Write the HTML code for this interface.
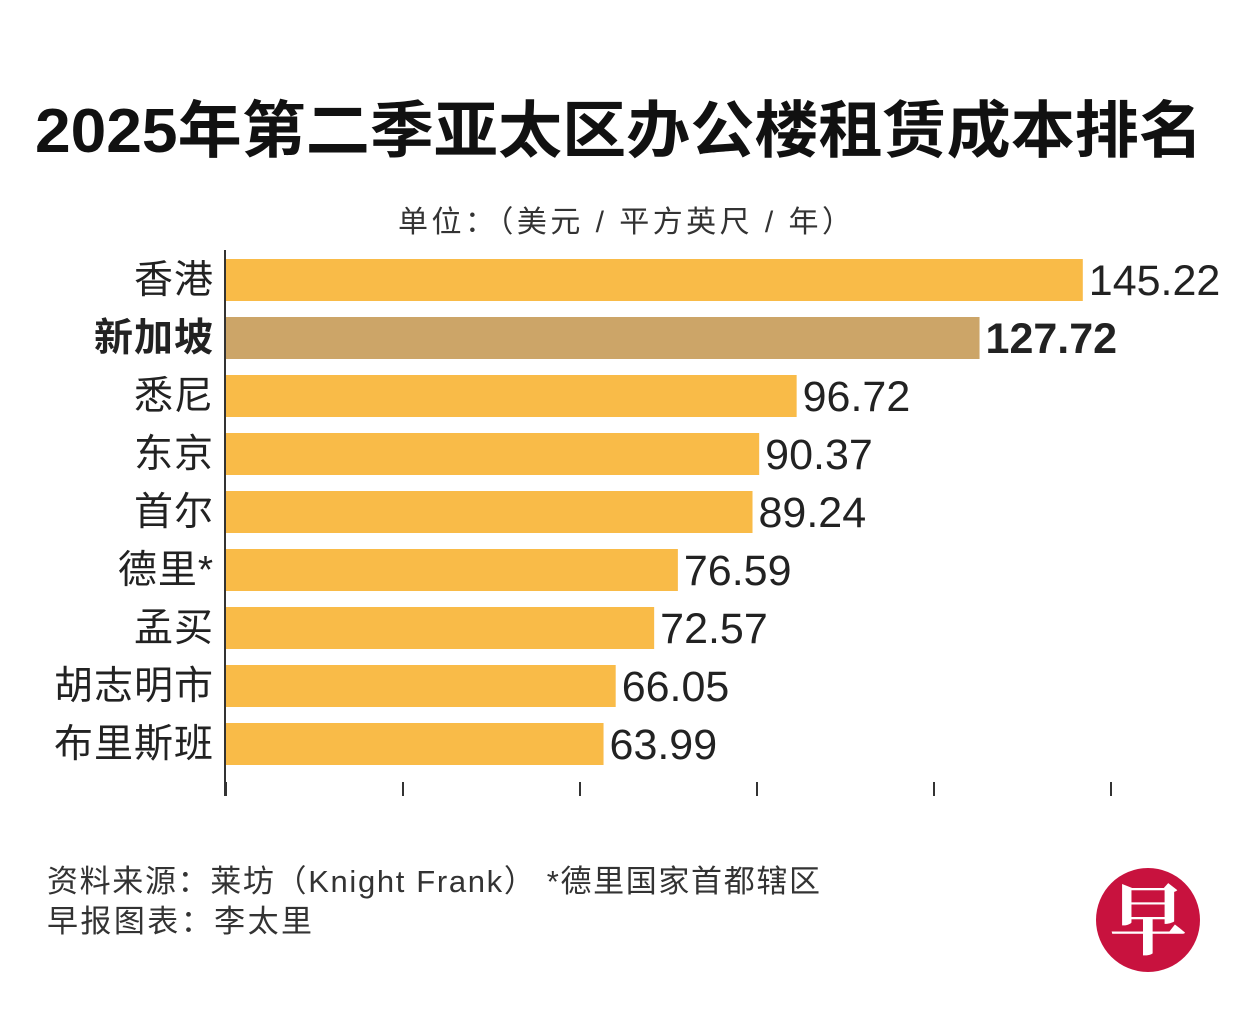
<!DOCTYPE html>
<html><head><meta charset="utf-8">
<style>
html,body{margin:0;padding:0;background:#fff;}
body{width:1251px;height:1028px;overflow:hidden;position:relative;font-family:"Liberation Sans","Noto Sans CJK SC",sans-serif;}
svg{position:absolute;left:0;top:0;}
</style></head>
<body>
<svg id="chart" width="1251" height="1028" xmlns="http://www.w3.org/2000/svg" font-family="Liberation Sans, Noto Sans CJK SC, sans-serif">
<text x="35" y="152" textLength="1168" lengthAdjust="spacingAndGlyphs" font-size="62" font-weight="bold" fill="#111">2025年第二季亚太区办公楼租赁成本排名</text>
<text x="398" y="232" textLength="454" lengthAdjust="spacing" font-size="30" fill="#333">单位：（美元 / 平方英尺 / 年）</text>
<g id="bars"></g>
<g id="axis"></g>
<text x="47" y="892" textLength="773" lengthAdjust="spacing" font-size="31" fill="#333">资料来源：莱坊（Knight Frank） *德里国家首都辖区</text>
<text x="47" y="932" textLength="265" lengthAdjust="spacing" font-size="31" fill="#333">早报图表：李太里</text>
<g>
<circle cx="1148" cy="920" r="52" fill="#c8123e"/>
<text x="1148" y="948" text-anchor="middle" font-size="78" font-weight="bold" fill="#fff" font-family="Noto Serif CJK SC, serif">早</text>
</g>
</svg>
<script>
const categories=["香港","新加坡","悉尼","东京","首尔","德里*","孟买","胡志明市","布里斯班"];
const values=[145.22,127.72,96.72,90.37,89.24,76.59,72.57,66.05,63.99];
const labels=["145.22","127.72","96.72","90.37","89.24","76.59","72.57","66.05","63.99"];
const highlight=[false,true,false,false,false,false,false,false,false];
const ticks=[0,30,60,90,120,150];
const NS="http://www.w3.org/2000/svg";
const x0=226,x1=1111,vmax=150;
const xs=v=>x0+(v/vmax)*(x1-x0);
const yTop=259,step=58,bh=42;
const ys=i=>yTop+i*step;
const g=document.getElementById('bars');
function mk(t,a){const e=document.createElementNS(NS,t);for(const k in a)e.setAttribute(k,a[k]);return e;}
categories.forEach((c,i)=>{
 const r=mk('rect',{x:x0,y:ys(i),width:xs(values[i])-x0,height:bh,fill:highlight[i]?'#cca568':'#f9bb48'});
 
 
 g.appendChild(r);
 const l=mk('text',{x:214,y:ys(i)+bh/2+13,'text-anchor':'end','font-size':39,fill:'#222','font-weight':highlight[i]?'bold':'normal','letter-spacing':'1'});
 l.textContent=c;
 
 
 g.appendChild(l);
 const v=mk('text',{x:xs(values[i])+6,y:ys(i)+bh/2+15,'font-size':43,fill:'#222','font-weight':highlight[i]?'bold':'normal'});
 v.textContent=labels[i];
 
 
 g.appendChild(v);
});
const ax=document.getElementById('axis');
const yl=mk('line',{x1:225,x2:225,y1:250,y2:796,stroke:'#333','stroke-width':2});


ax.appendChild(yl);
ticks.forEach(t=>{
 const tk=mk('line',{x1:xs(t),x2:xs(t),y1:782,y2:796,stroke:'#333','stroke-width':2});
 
 
 ax.appendChild(tk);
});
</script>
</body></html>
